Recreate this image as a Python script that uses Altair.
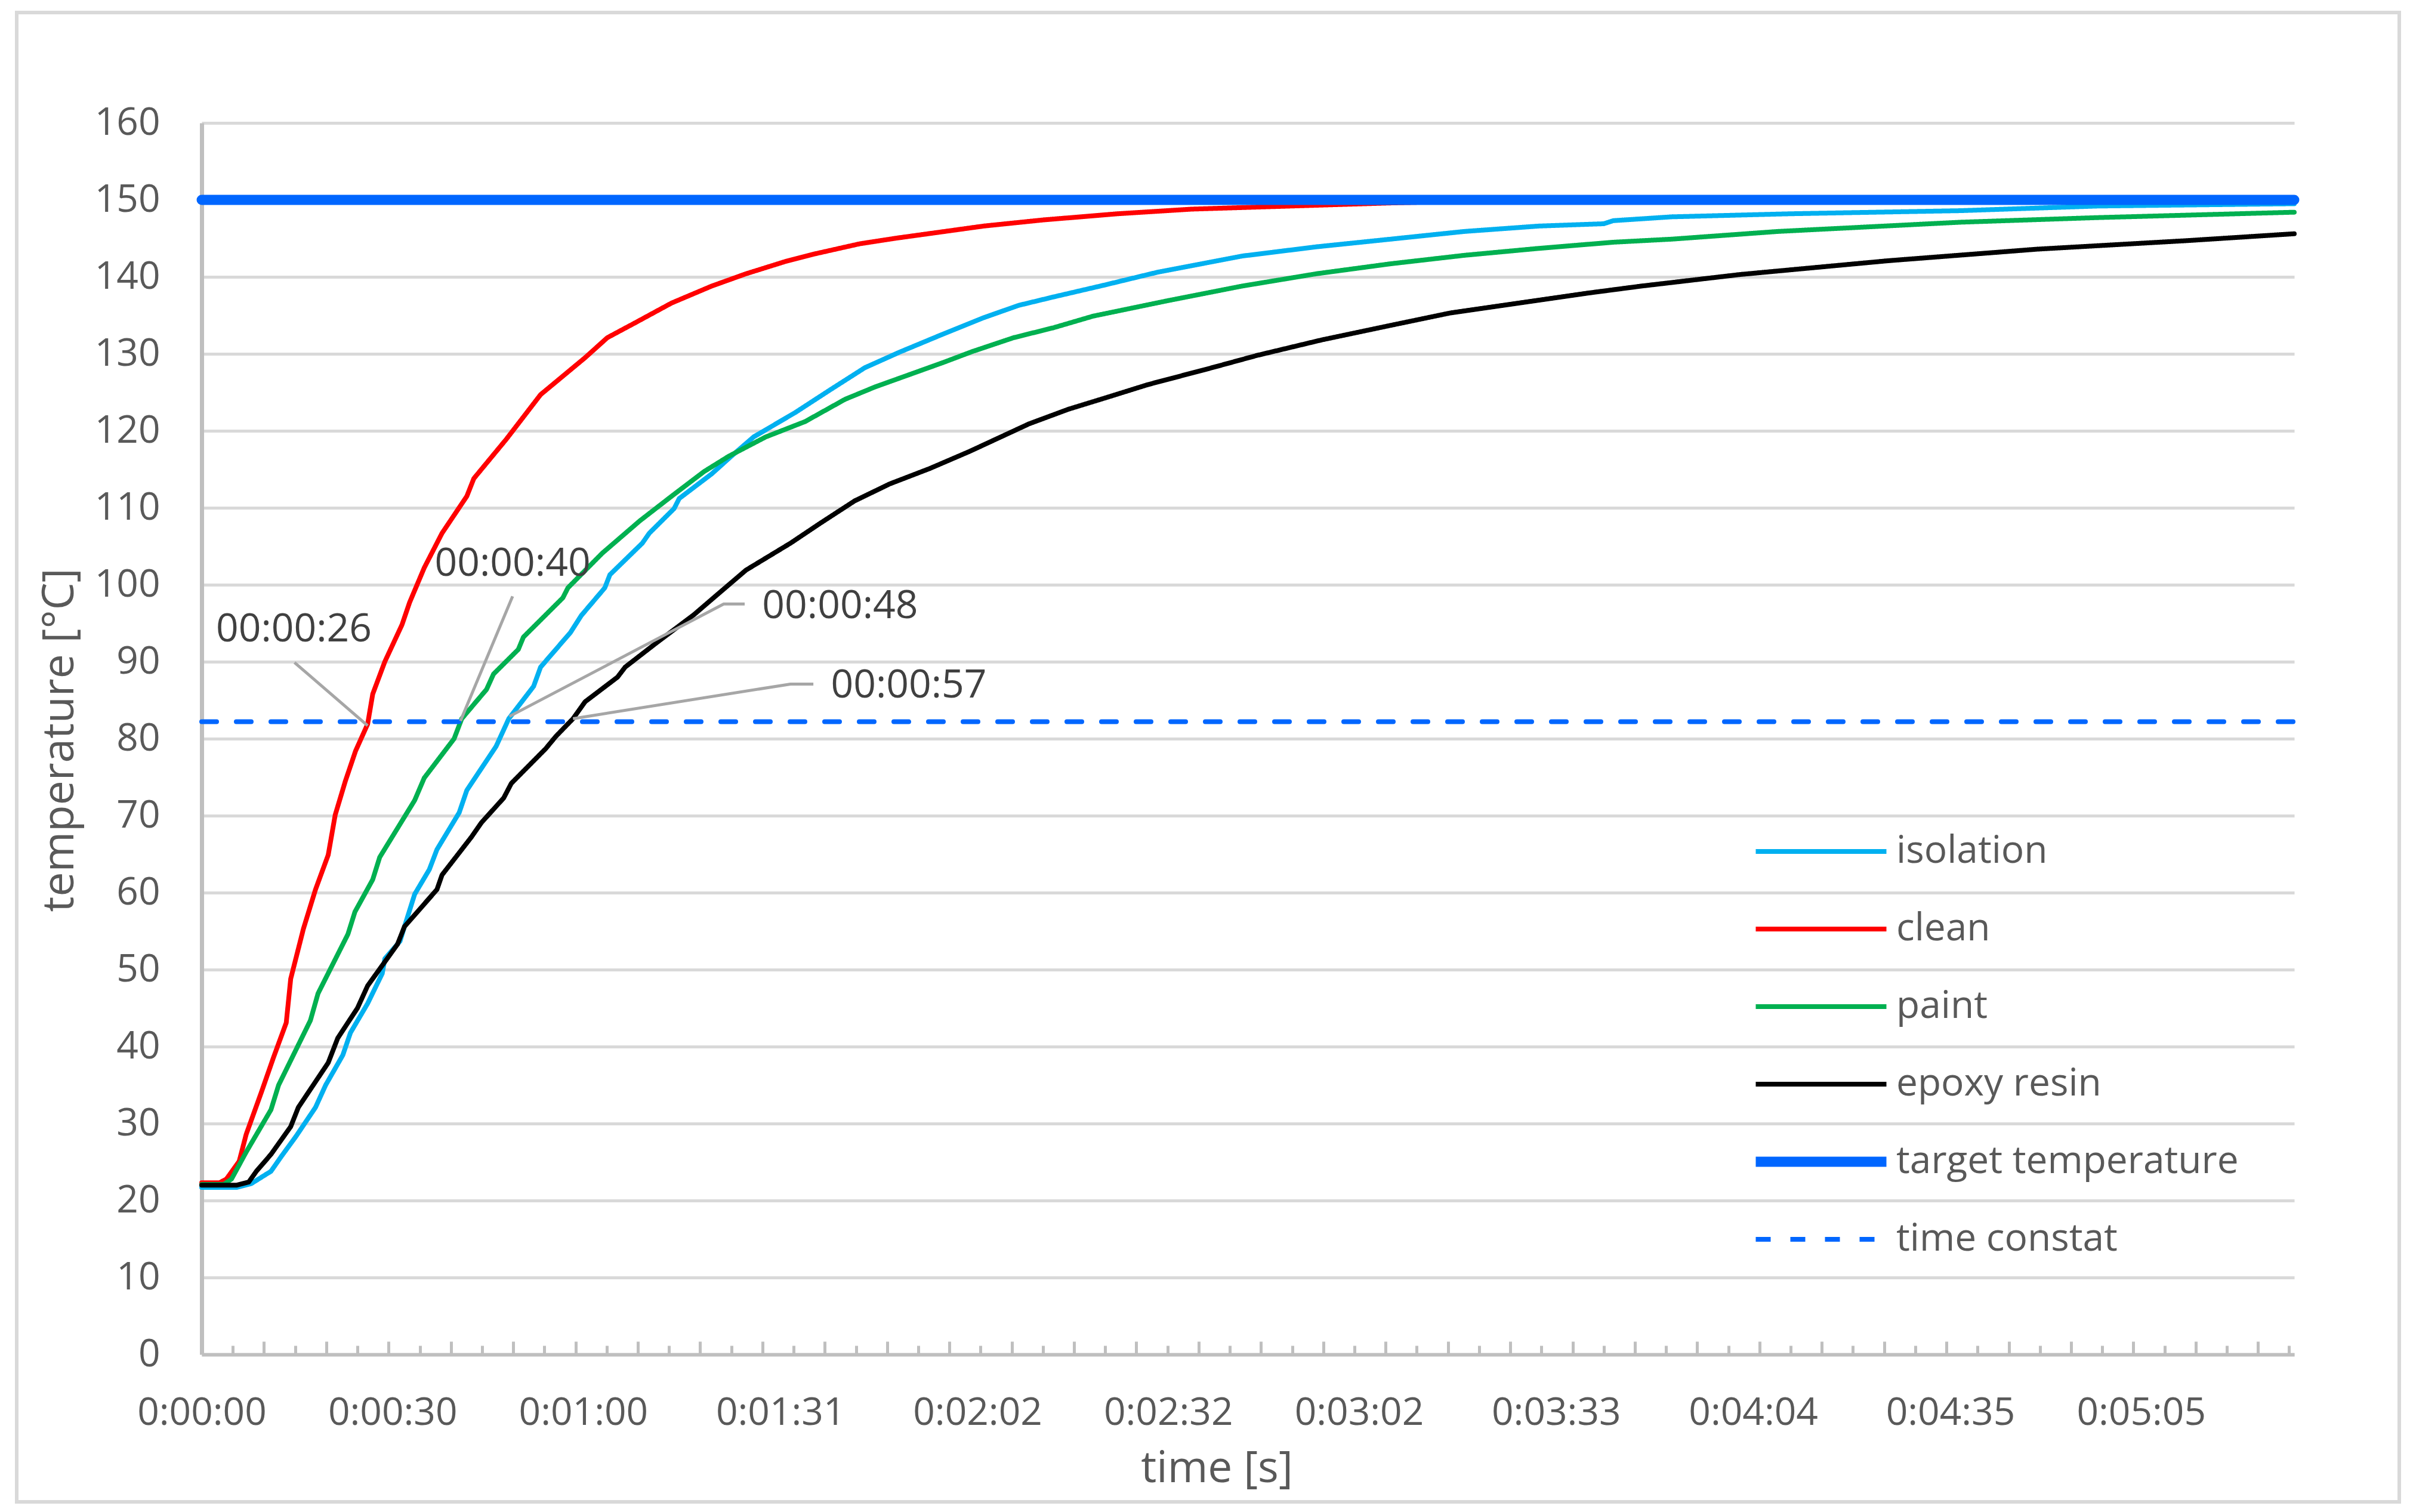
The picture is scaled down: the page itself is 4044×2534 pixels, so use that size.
import altair as alt
import pandas as pd

FONT = "Open Sans"
TEXT_GREY = "#595959"

# ---------------- data ----------------
series_names = ["isolation", "clean", "paint", "epoxy resin", "target temperature", "time constat"]

iso_t = [0, 5.5, 7.8, 10.9, 12.5, 14.8, 17.9, 19.5, 22.2, 23.4, 26.1, 28.4, 28.8, 31.2, 31.9, 33.5,
         35.8, 37.0, 40.5, 41.7, 46.3, 48.3, 52.2, 53.3, 58.0, 59.7, 63.4, 64.2, 69.3, 70.4, 74.3, 75.1,
         80.2, 83.3, 86.8, 93.4, 98.8, 104.3, 109.7, 116.4, 123.0, 128.5, 134.0, 141.8, 150.3, 163.6,
         175.3, 187.0, 198.6, 210.3, 220.5, 222.0, 231.2, 250.0, 276.6, 298.2, 329.1]
iso_T = [21.7, 21.7, 22.2, 23.8, 25.7, 28.3, 32.1, 35.0, 38.9, 41.8, 45.6, 49.5, 51.4, 53.7, 55.6, 59.8,
         63.0, 65.6, 70.4, 73.3, 79.0, 82.6, 86.8, 89.3, 93.8, 96.0, 99.6, 101.3, 105.4, 106.7, 109.9, 111.2,
         114.4, 116.7, 119.2, 122.4, 125.3, 128.2, 130.2, 132.5, 134.7, 136.3, 137.4, 138.9, 140.6, 142.7,
         143.9, 144.9, 145.9, 146.6, 146.9, 147.3, 147.8, 148.2, 148.6, 149.2, 149.5]

clean_t = [0, 2.8, 3.9, 5.9, 7.0, 9.4, 11.3, 13.3, 14.0, 16.0, 17.9, 19.9, 21.0, 22.6, 24.2, 26.1, 26.9,
           28.8, 31.5, 32.7, 35.0, 37.8, 41.7, 42.8, 47.9, 53.3, 60.3, 63.8, 68.1, 73.9, 80.2, 85.6, 91.8,
           96.5, 103.5, 109.0, 116.0, 123.0, 132.4, 144.1, 155.7, 171.3, 186.9, 202.5, 220.0, 260.0, 300.0, 329.1]
clean_T = [22.3, 22.3, 22.8, 25.1, 28.6, 34.1, 38.6, 43.1, 48.8, 55.3, 60.4, 64.9, 70.1, 74.5, 78.4, 81.9, 85.8,
           90.0, 94.8, 97.7, 102.2, 106.7, 111.5, 113.8, 118.9, 124.7, 129.5, 132.1, 134.0, 136.6, 138.8, 140.4, 142.0,
           143.0, 144.3, 145.0, 145.8, 146.6, 147.4, 148.2, 148.8, 149.2, 149.6, 149.9, 150.0, 150.0, 150.0, 150.0]

paint_t = [0, 3.5, 4.7, 7.0, 10.9, 12.1, 17.1, 18.3, 23.0, 24.1, 26.9, 28.0, 33.5, 35.0, 39.7, 40.9, 44.8,
           45.9, 49.8, 50.6, 56.8, 57.6, 63.0, 68.9, 73.9, 79.0, 82.9, 88.7, 94.9, 101.2, 105.9, 111.3, 116.7,
           121.2, 127.7, 134.0, 140.2, 151.9, 163.6, 175.3, 187.0, 198.6, 210.3, 222.0, 231.2, 247.9, 276.6,
           298.2, 329.1]
paint_T = [22.1, 22.1, 22.8, 26.3, 31.8, 35.0, 43.4, 46.9, 54.6, 57.5, 61.7, 64.6, 72.0, 74.9, 80.0, 82.6, 86.4,
           88.4, 91.6, 93.2, 98.3, 99.6, 104.1, 108.3, 111.5, 114.7, 116.7, 119.2, 121.2, 124.1, 125.7, 127.3, 128.9,
           130.3, 132.1, 133.4, 134.9, 136.9, 138.8, 140.4, 141.7, 142.8, 143.7, 144.5, 144.9, 145.9, 147.1,
           147.7, 148.4]

epoxy_t = [0, 5.5, 7.4, 8.6, 10.9, 14.0, 15.2, 19.9, 21.4, 24.5, 26.1, 30.8, 31.9, 37.0, 37.8, 42.4, 44.0,
           47.5, 48.7, 54.1, 55.7, 58.4, 60.3, 65.4, 66.6, 71.6, 77.4, 80.5, 85.6, 92.6, 97.3, 102.7, 108.2,
           114.5, 120.7, 130.1, 136.3, 142.6, 148.8, 158.9, 166.0, 176.1, 187.0, 196.3, 207.2, 218.1, 226.4,
           241.9, 265.3, 288.7, 312.1, 329.1]
epoxy_T = [22.0, 22.0, 22.4, 23.8, 26.0, 29.6, 32.1, 37.9, 41.1, 45.0, 47.9, 53.3, 55.6, 60.4, 62.3, 67.2, 69.1,
           72.3, 74.2, 78.7, 80.3, 82.6, 84.8, 88.0, 89.3, 92.5, 96.1, 98.3, 101.9, 105.4, 108.0, 110.9, 113.1,
           115.1, 117.3, 120.9, 122.8, 124.4, 126.0, 128.2, 129.8, 131.8, 133.7, 135.3, 136.6, 137.9, 138.8,
           140.3, 142.1, 143.6, 144.7, 145.6]

target_t = [0, 329.1]
target_T = [150.0, 150.0]

tconst_t = [0, 329.1]
tconst_T = [82.2, 82.2]

ann_labels = ["00:00:26", "00:00:40", "00:00:48", "00:00:57"]
ann_text_t = [14.5, 48.9, 100.4, 111.2]
ann_text_T = [94.2, 102.7, 97.2, 86.9]
# leader lines (polyline vertices per annotation)
lead_26_t, lead_26_T = [14.6, 26.1], [89.9, 81.7]
lead_40_t, lead_40_T = [48.9, 40.7], [98.5, 82.3]
lead_48_t, lead_48_T = [85.4, 82.1, 48.4], [97.5, 97.5, 82.9]
lead_57_t, lead_57_T = [96.2, 92.6, 58.4], [87.1, 87.1, 82.6]

x_label_text = ["0:00:00", "0:00:30", "0:01:00", "0:01:31", "0:02:02", "0:02:32",
                "0:03:02", "0:03:33", "0:04:04", "0:04:35", "0:05:05"]
y_tick_values = [0, 10, 20, 30, 40, 50, 60, 70, 80, 90, 100, 110, 120, 130, 140, 150, 160]
X_MAX = 329.1
TICK_STEP = 4.9  # category tick interval of the original axis (s)

# ---------------- styles ----------------
series_colors = ["#00B0F0", "#FF0000", "#00B050", "#000000", "#0066FF", "#0066FF"]
series_widths = [8, 8, 8, 8, 17, 8]
series_dashes = [[1, 0], [1, 0], [1, 0], [1, 0], [1, 0], [25, 33]]

W, H = 3507, 2064

# ---------------- tables ----------------
series_t = [iso_t, clean_t, paint_t, epoxy_t, target_t, tconst_t]
series_T = [iso_T, clean_T, paint_T, epoxy_T, target_T, tconst_T]
rows = []
for name, ts, Ts in zip(series_names, series_t, series_T):
    for t, T in zip(ts, Ts):
        rows.append({"series": name, "t": t, "T": T})
df = pd.DataFrame(rows)

lead_rows = []
for lab, ts, Ts in zip(ann_labels,
                       [lead_26_t, lead_40_t, lead_48_t, lead_57_t],
                       [lead_26_T, lead_40_T, lead_48_T, lead_57_T]):
    for i, (t, T) in enumerate(zip(ts, Ts)):
        lead_rows.append({"label": lab, "idx": i, "t": t, "T": T})
lead_df = pd.DataFrame(lead_rows)

ann_df = pd.DataFrame({"label": ann_labels, "t": ann_text_t, "T": ann_text_T})

x_label_sec = []
for lab in x_label_text:
    h, m, s = lab.split(":")
    x_label_sec.append(int(h) * 3600 + int(m) * 60 + int(s))

n_ticks = int(X_MAX // TICK_STEP)
tick_all = [round(TICK_STEP * k, 3) for k in range(1, n_ticks + 1)]
tick_major = [v for k, v in enumerate(tick_all, start=1) if k % 2 == 0]
tick_minor = [v for k, v in enumerate(tick_all, start=1) if k % 2 == 1]

xscale = alt.Scale(domain=[0, X_MAX], nice=False, zero=False)
yscale = alt.Scale(domain=[0, 160], nice=False)

label_expr = ("'0:' + (floor(datum.value/60) < 10 ? '0' : '') + floor(datum.value/60) + ':' + "
              "(datum.value % 60 < 10 ? '0' : '') + (datum.value % 60)")

x_main_axis = alt.Axis(
    values=x_label_sec, labelExpr=label_expr, ticks=False, tickSize=0, grid=False,
    domain=True, domainColor="#BFBFBF", domainWidth=6,
    labelFont=FONT, labelFontSize=64, labelColor=TEXT_GREY, labelPadding=66,
    labelFlush=False, labelOverlap=False, labelBound=False, labelLimit=2000,
    title="time [s]", titleFont=FONT, titleFontSize=73, titleFontWeight="normal",
    titleColor=TEXT_GREY, titleX=1701, titleY=213, titleAlign="center", titleBaseline="alphabetic",
)

y_axis = alt.Axis(
    values=y_tick_values, grid=True, gridColor="#D9D9D9", gridWidth=5,
    domain=True, domainColor="#BFBFBF", domainWidth=7, ticks=False, tickSize=0,
    labelFont=FONT, labelFontSize=64, labelColor=TEXT_GREY, labelPadding=70, labelLimit=2000,
    title="temperature [°C]", titleFont=FONT, titleFontSize=73, titleFontWeight="normal",
    titleColor=TEXT_GREY, titleAngle=270, titleX=-216, titleY=1034,
    titleAlign="center", titleBaseline="alphabetic",
)

major_tick_axis = alt.Axis(
    orient="top", offset=-H, values=tick_major, ticks=True, tickSize=22, tickWidth=5,
    tickColor="#BFBFBF", labels=False, domain=False, grid=False, title=None,
)
minor_tick_axis = alt.Axis(
    orient="top", offset=-H, values=tick_minor, ticks=True, tickSize=15, tickWidth=5,
    tickColor="#BFBFBF", labels=False, domain=False, grid=False, title=None,
)

legend = alt.Legend(
    title=None, orient="none", legendX=2596, legendY=1171, direction="vertical",
    symbolType="stroke", symbolSize=219 * 219, clipHeight=100, rowPadding=30,
    labelFont=FONT, labelFontSize=64, labelColor=TEXT_GREY, labelOffset=8, labelLimit=1200,
    padding=0, symbolOffset=0,
)

frame = alt.Chart(pd.DataFrame({"frame": [0]})).mark_rect(
    fillOpacity=0, stroke="#D9D9D9", strokeWidth=6
).encode(
    x=alt.value(-310), x2=alt.value(3683), y=alt.value(-185), y2=alt.value(2311)
)

lines = alt.Chart(df).mark_line(strokeCap="round", strokeJoin="round").encode(
    x=alt.X("t:Q", scale=xscale, axis=x_main_axis),
    y=alt.Y("T:Q", scale=yscale, axis=y_axis),
    color=alt.Color("series:N", scale=alt.Scale(domain=series_names, range=series_colors), legend=legend),
    strokeDash=alt.StrokeDash("series:N", scale=alt.Scale(domain=series_names, range=series_dashes), legend=legend),
    strokeWidth=alt.StrokeWidth("series:N",
                                scale=alt.Scale(type="ordinal", domain=series_names, range=series_widths),
                                legend=legend),
)

leaders = alt.Chart(lead_df).mark_line(color="#A6A6A6", strokeWidth=5).encode(
    x=alt.X("t:Q", scale=xscale, axis=major_tick_axis),
    y=alt.Y("T:Q", scale=yscale, axis=y_axis),
    detail="label:N",
    order="idx:Q",
)

ann = alt.Chart(ann_df).mark_text(
    font=FONT, fontSize=66, color="#404040", align="center", baseline="middle"
).encode(
    x=alt.X("t:Q", scale=xscale, axis=minor_tick_axis),
    y=alt.Y("T:Q", scale=yscale, axis=y_axis),
    text="label:N",
)

chart = alt.layer(frame, lines, leaders, ann).resolve_axis(x="independent").properties(
    width=W, height=H,
    autosize=alt.AutoSizeParams(type="none"),
    padding={"left": 330, "top": 198, "right": 185, "bottom": 250},
    background="white",
).configure_view(stroke=None)

chart.save("out.html", embed_options={"renderer": "svg", "actions": False})
